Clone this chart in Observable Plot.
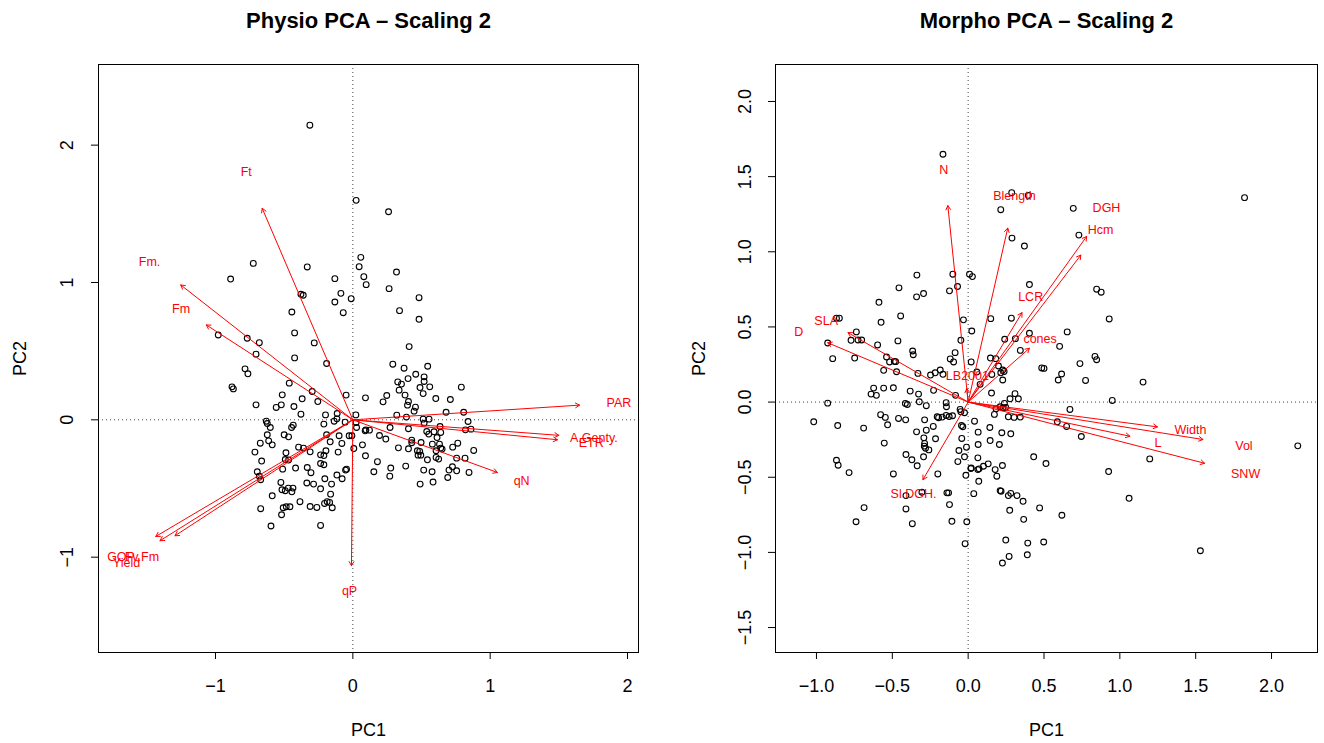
<!DOCTYPE html>
<html>
<head>
<meta charset="utf-8">
<script src="https://cdn.jsdelivr.net/npm/d3@7"></script>
<script src="https://cdn.jsdelivr.net/npm/@observablehq/plot@0.6"></script>
<style>
  body { margin: 0; background: #fff; }
  #wrap { display: flex; width: 1324px; height: 743px; }
  #wrap svg { overflow: visible; }
</style>
</head>
<body>
<div id="wrap"></div>
<script>
// ---- Physio PCA (scaling 2): site scores [PC1, PC2] ----
const physioSites = [
  [-0.313,2.145],[0.024,1.598],[0.058,1.183],[0.046,1.115],[0.08,1.042],[0.097,0.984],
  [-0.725,1.139],[-0.89,1.025],[-0.332,1.113],[-0.131,1.028],[-0.087,0.921],[-0.131,0.858],
  [-0.012,0.882],[-0.07,0.78],[-0.378,0.914],[-0.361,0.907],[-0.444,0.785],[-0.424,0.633],
  [-0.281,0.56],[-0.98,0.618],[-0.769,0.594],[-0.681,0.562],[-0.705,0.478],[-0.424,0.451],
  [-0.191,0.41],[-0.785,0.371],[-0.764,0.335],
  [-0.463,0.267],[-0.88,0.24],[-0.87,0.225],[-0.514,0.182],[-0.296,0.206],[-0.049,0.18],
  [0.092,0.16],[-0.705,0.109],[-0.369,0.153],[-0.255,0.133],[-0.521,0.109],[-0.558,0.09],
  [-0.429,0.097],[-0.378,0.041],[-0.199,0.036],[-0.114,0.046],[0.022,0.036],[-0.136,-0.01],
  [-0.056,-0.017],[-0.211,-0.031],[-0.63,-0.01],[-0.623,-0.027],[-0.601,-0.056],[-0.434,-0.039],
  [-0.446,-0.056],[0.024,-0.019],[0.027,-0.056],[0.095,-0.073],
  [-0.116,0.007],[-0.191,-0.109],[-0.1,-0.116],[-0.027,-0.116],[-0.007,-0.116],[-0.623,-0.109],
  [-0.5,-0.109],[-0.468,-0.124],[-0.613,-0.153],[-0.587,-0.182],[-0.674,-0.17],[-0.165,-0.16],
  [-0.08,-0.172],[-0.395,-0.199],[-0.359,-0.206],[-0.311,-0.233],[-0.713,-0.235],[-0.487,-0.24],
  [-0.196,-0.225],[-0.235,-0.255],[-0.211,-0.26],[-0.107,-0.235],[0.007,-0.209],[0.07,-0.182],
  [0.092,-0.262],[-0.492,-0.289],[-0.468,-0.293],[-0.664,-0.3],[-0.235,-0.318],[-0.211,-0.327],
  [-0.511,-0.359],[-0.417,-0.351],[-0.332,-0.347],[-0.305,-0.385],[-0.046,-0.359],[-0.053,-0.366],
  [-0.696,-0.378],[-0.681,-0.41],[-0.671,-0.436],[-0.116,-0.402],[-0.078,-0.429],[-0.204,-0.429],
  [-0.155,-0.468],[-0.335,-0.46],[-0.286,-0.468],[-0.524,-0.456],[-0.47,-0.497],[-0.436,-0.497],
  [-0.516,-0.509],[-0.492,-0.516],[-0.444,-0.524],[-0.235,-0.502],[-0.162,-0.541],[-0.587,-0.553],
  [-0.385,-0.596],[-0.311,-0.631],[-0.262,-0.638],[-0.206,-0.609],[-0.187,-0.596],[-0.169,-0.601],
  [-0.15,-0.64],[-0.507,-0.64],[-0.485,-0.633],[-0.458,-0.633],[-0.519,-0.691],[-0.671,-0.647],
  [-0.596,-0.773],[-0.235,-0.769],
  [0.291,0.405],[0.373,0.376],[0.545,0.39],[0.458,0.332],[0.402,0.3],[0.519,0.313],
  [0.519,0.279],[0.327,0.276],[0.354,0.26],[0.489,0.235],[0.56,0.24],[0.79,0.238],
  [0.337,0.216],[0.512,0.191],[0.38,0.18],[0.247,0.177],[0.22,0.131],[0.604,0.155],
  [0.71,0.148],[0.405,0.133],[0.398,0.107],[0.456,0.092],[0.446,0.063],[0.679,0.055],
  [0.807,0.055],[0.32,0.034],[0.39,0.02],[0.512,0.005],[0.555,0.005],[0.519,-0.024],
  [0.839,-0.012],[0.635,-0.049],[0.271,-0.056],[0.405,-0.065],[0.09,-0.08],[0.121,-0.075],
  [0.538,-0.085],[0.553,-0.104],[0.591,-0.087],[0.64,-0.092],[0.82,-0.073],[0.86,-0.068],
  [0.194,-0.114],[0.24,-0.14],[0.613,-0.129],[0.429,-0.148],[0.429,-0.167],[0.497,-0.165],
  [0.579,-0.177],[0.631,-0.177],[0.764,-0.17],[0.332,-0.204],[0.405,-0.211],[0.64,-0.206],
  [0.65,-0.213],[0.727,-0.199],[0.47,-0.225],[0.487,-0.23],[0.495,-0.257],[0.475,-0.257],
  [0.606,-0.225],[0.88,-0.223],[0.543,-0.291],[0.606,-0.274],[0.625,-0.286],[0.756,-0.279],
  [0.817,-0.279],[0.179,-0.305],[0.385,-0.337],[0.276,-0.351],[0.516,-0.366],[0.577,-0.378],
  [0.725,-0.342],[0.7,-0.366],[0.756,-0.371],[0.846,-0.383],[0.153,-0.378],[0.269,-0.41],
  [0.691,-0.42],[0.49,-0.468],[0.584,-0.453],
  [0.26,1.515],[0.318,1.076],[0.264,0.955],[0.482,0.889],[0.34,0.795],[0.482,0.732],[0.41,0.533]
];

// ---- Physio PCA: variable arrows and label anchors ----
const physioVars   = ["Ft", "Fm.", "Fm", "GOP", "Yield", "Fv.Fm", "qP", "PAR", "A.Genty.", "ETR", "qN"];
const physioLoad1  = [-0.66, -1.253, -1.067, -1.435, -1.404, -1.295, -0.01, 1.651, 1.50, 1.49, 1.052];
const physioLoad2  = [1.54, 0.982, 0.691, -0.849, -0.88, -0.844, -1.062, 0.107, -0.113, -0.145, -0.383];
const physioLabel1 = [-0.776, -1.48, -1.251, -1.688, -1.648, -1.536, -0.024, 1.937, 1.755, 1.736, 1.229];
const physioLabel2 = [1.806, 1.151, 0.81, -1.0, -1.039, -1.0, -1.249, 0.126, -0.131, -0.167, -0.449];

// ---- Morpho PCA (scaling 2): site scores [PC1, PC2] ----
const morphoSites = [
  [-0.166,1.649],[-0.338,0.845],[-0.101,0.851],[0.009,0.851],[0.028,0.835],[-0.07,0.769],
  [-0.123,0.74],[-0.456,0.76],[-0.34,0.7],[-0.294,0.722],[-0.588,0.664],[-0.445,0.573],
  [-0.868,0.558],[-0.849,0.558],[-0.574,0.531],[-0.031,0.547],[0.024,0.473],[-0.737,0.467],
  [-0.772,0.411],[-0.726,0.413],[-0.702,0.413],[-0.926,0.393],[-0.597,0.38],[-0.463,0.407],
  [-0.048,0.411],[-0.893,0.289],[-0.748,0.293],[-0.538,0.3],[-0.518,0.267],[-0.487,0.271],
  [-0.478,0.269],[-0.366,0.34],[-0.362,0.315],[-0.086,0.329],[-0.118,0.287],[-0.096,0.267],
  [0.02,0.267],[-0.557,0.211],[-0.472,0.202],[-0.331,0.191],[-0.248,0.18],[-0.217,0.195],
  [-0.184,0.213],[-0.166,0.185],[-0.623,0.093],[-0.64,0.053],[-0.605,0.045],[-0.557,0.093],
  [-0.493,0.095],[-0.382,0.073],[-0.327,0.053],[-0.228,0.078],[-0.083,0.045],
  [-0.926,-0.007],[-0.414,-0.009],[-0.401,-0.016],[-0.322,0.002],[-0.276,-0.024],[-0.145,-0.004],
  [-0.143,-0.031],[-0.053,-0.049],[-0.048,-0.064],[-0.024,-0.071],[-1.018,-0.131],[-0.86,-0.156],
  [-0.689,-0.173],[-0.577,-0.084],[-0.546,-0.102],[-0.531,-0.151],[-0.459,-0.109],[-0.412,-0.118],
  [-0.287,-0.118],[-0.204,-0.098],[-0.195,-0.104],[-0.171,-0.1],[-0.145,-0.089],[-0.125,-0.096],
  [-0.103,-0.091],[-0.044,-0.156],[-0.035,-0.164],[-0.23,-0.162],[-0.276,-0.187],[-0.34,-0.198],
  [-0.553,-0.273],[-0.292,-0.238],[-0.287,-0.275],[-0.289,-0.293],[-0.281,-0.307],[-0.259,-0.318],
  [-0.215,-0.244],[-0.042,-0.242],[-0.011,-0.3],[-0.061,-0.322],[-0.024,-0.364],[-0.068,-0.396],
  [-0.294,-0.364],[-0.41,-0.349],[-0.371,-0.384],[-0.336,-0.424],[-0.868,-0.387],[-0.857,-0.42],
  [-0.785,-0.469],[-0.493,-0.478],[-0.2,-0.478],[-0.015,-0.487],[0.018,-0.442],[-0.41,-0.622],
  [-0.305,-0.6],[-0.14,-0.604],[-0.129,-0.604],[-0.123,-0.682],[0.037,-0.609],[-0.686,-0.702],
  [-0.41,-0.711],[-0.739,-0.796],[-0.368,-0.809],[-0.107,-0.793],[-0.009,-0.796],[-0.02,-0.942],
  [0.057,0.2],[0.154,0.06],[0.042,-0.127],[0.143,-0.169],[0.066,-0.2],[0.222,-0.204],
  [0.281,-0.211],[0.066,-0.282],[0.145,-0.256],[0.206,-0.282],[0.064,-0.371],[0.132,-0.411],
  [0.02,-0.438],[0.064,-0.449],[0.072,-0.444],[0.101,-0.427],[0.178,-0.449],[0.226,-0.422],
  [0.189,-0.493],[0.07,-0.527],
  [0.287,1.393],[0.397,1.375],[0.215,1.28],[0.693,1.289],[0.73,1.111],[0.289,1.091],
  [0.371,1.038],[0.404,0.782],[0.847,0.751],[0.877,0.731],[0.93,0.553],[0.149,0.555],
  [0.285,0.558],[0.241,0.418],[0.311,0.422],[0.404,0.458],[0.653,0.467],[0.344,0.344],
  [0.603,0.371],[0.147,0.293],[0.182,0.289],[0.2,0.24],[0.228,0.213],[0.237,0.204],
  [0.215,0.195],[0.156,0.184],[0.228,0.147],[0.079,0.118],[0.737,0.256],[0.836,0.304],
  [0.847,0.282],[0.485,0.227],[0.5,0.224],[0.616,0.187],[0.594,0.147],[0.774,0.144],
  [0.309,0.056],[0.276,0.022],[0.331,0.022],[0.95,0.011],
  [0.671,-0.049],[0.184,-0.044],[0.211,-0.031],[0.23,-0.038],[0.248,-0.035],[0.239,-0.009],
  [0.173,-0.082],[0.265,-0.098],[0.303,-0.102],[0.344,-0.1],[0.588,-0.131],[0.649,-0.162],
  [0.746,-0.229],[0.432,-0.364],[0.513,-0.409],[0.926,-0.462],[1.061,-0.64],[0.211,-0.589],
  [0.217,-0.593],[0.265,-0.622],[0.281,-0.607],[0.322,-0.622],[0.362,-0.66],[0.471,-0.704],
  [0.618,-0.753],[0.274,-0.72],[0.366,-0.78],[0.248,-0.918],[0.393,-0.938],[0.498,-0.931],
  [0.27,-1.027],[0.39,-1.016],[0.226,-1.071],
  [1.822,1.36],[1.153,0.133],[2.173,-0.291],[1.197,-0.378],[1.531,-0.989]
];

// ---- Morpho PCA: variable arrows and label anchors ----
const morphoVars   = ["N", "Blength", "DGH", "Hcm", "LCR", "cones", "LB2001", "SLA", "D", "Sl.DGH.", "Width", "L", "Vol", "SNW"];
const morphoLoad1  = [-0.134, 0.261, 0.781, 0.743, 0.355, 0.404, -0.009, -0.792, -0.926, -0.298, 1.248, 1.066, 1.548, 1.559];
const morphoLoad2  = [1.307, 1.158, 1.102, 0.978, 0.595, 0.358, 0.09, 0.462, 0.395, -0.516, -0.165, -0.227, -0.249, -0.407];
const morphoLabel1 = [-0.16, 0.305, 0.912, 0.873, 0.412, 0.474, -0.005, -0.936, -1.116, -0.36, 1.465, 1.252, 1.818, 1.829];
const morphoLabel2 = [1.547, 1.373, 1.291, 1.147, 0.702, 0.422, 0.173, 0.54, 0.469, -0.611, -0.189, -0.271, -0.295, -0.478];

// ---- Axis ticks ----
const physioXTicks = [-1, 0, 1, 2];
const physioYTicks = [-1, 0, 1, 2];
const morphoXTicks = [-1, -0.5, 0, 0.5, 1, 1.5, 2];
const morphoYTicks = [-1.5, -1, -0.5, 0, 0.5, 1, 1.5, 2];

const minus = s => s.replace("-", "\u2212");
const fmtInt = d => minus(d3.format("d")(d));
const fmtOne = d => minus(d3.format(".1f")(d));

function biplot(o) {
  const sites = o.sites.map(([x, y]) => ({x, y}));
  const arrows = o.vars.map((name, i) => ({
    name, x: o.load1[i], y: o.load2[i], lx: o.label1[i], ly: o.label2[i]
  }));
  return Plot.plot({
    width: 662,
    height: 743,
    marginTop: 64,
    marginBottom: 91,
    marginLeft: o.marginLeft,
    marginRight: o.marginRight,
    x: {domain: o.xDomain, label: null},
    y: {domain: o.yDomain, label: null},
    style: {
      fontFamily: "'Liberation Sans', Arial, Helvetica, sans-serif",
      fontSize: "18px",
      color: "black",
      background: "white",
      overflow: "visible"
    },
    marks: [
      Plot.ruleX([0], {stroke: "#444", strokeDasharray: "1,3"}),
      Plot.ruleY([0], {stroke: "#444", strokeDasharray: "1,3"}),
      Plot.dot(sites, {x: "x", y: "y", r: 2.9, stroke: "black", fill: "none", strokeWidth: 1.1}),
      Plot.arrow(arrows, {
        x1: () => 0, y1: () => 0, x2: "x", y2: "y",
        stroke: "red", strokeWidth: 1, headLength: 7, headAngle: 60
      }),
      Plot.text(arrows, {x: "lx", y: "ly", text: "name", fill: "red", fontSize: 12.5, lineAnchor: "middle"}),
      Plot.frame({stroke: "black", strokeWidth: 1}),
      Plot.axisX({ticks: o.xTicks, tickSize: 7, tickPadding: 20, tickFormat: o.fmt, label: null}),
      Plot.axisY({ticks: o.yTicks, tickSize: 7, tickFormat: () => "", label: null}),
      Plot.text(o.yTicks, {
        y: d => d, text: o.fmt, frameAnchor: "left", dx: o.yTickDx,
        rotate: -90, textAnchor: "middle", lineAnchor: "middle"
      }),
      Plot.text([o.title], {frameAnchor: "top", dy: -44, fontWeight: "bold", fontSize: 22, lineAnchor: "middle"}),
      Plot.text(["PC1"], {frameAnchor: "bottom", dy: 78, lineAnchor: "middle"}),
      Plot.text(["PC2"], {frameAnchor: "left", dx: o.pc2Dx, rotate: -90, textAnchor: "middle", lineAnchor: "middle"})
    ]
  });
}

const wrap = document.getElementById("wrap");

wrap.appendChild(biplot({
  title: "Physio PCA \u2013 Scaling 2",
  sites: physioSites,
  vars: physioVars, load1: physioLoad1, load2: physioLoad2,
  label1: physioLabel1, label2: physioLabel2,
  xDomain: [-1.852, 2.080], yDomain: [-1.694, 2.587],
  xTicks: physioXTicks, yTicks: physioYTicks, fmt: fmtInt,
  marginLeft: 98, marginRight: 24, yTickDx: -31, pc2Dx: -78
}));

wrap.appendChild(biplot({
  title: "Morpho PCA \u2013 Scaling 2",
  sites: morphoSites,
  vars: morphoVars, load1: morphoLoad1, load2: morphoLoad2,
  label1: morphoLabel1, label2: morphoLabel2,
  xDomain: [-1.270, 2.303], yDomain: [-1.666, 2.246],
  xTicks: morphoXTicks, yTicks: morphoYTicks, fmt: fmtOne,
  marginLeft: 113, marginRight: 7, yTickDx: -30, pc2Dx: -76
}));
</script>
</body>
</html>
